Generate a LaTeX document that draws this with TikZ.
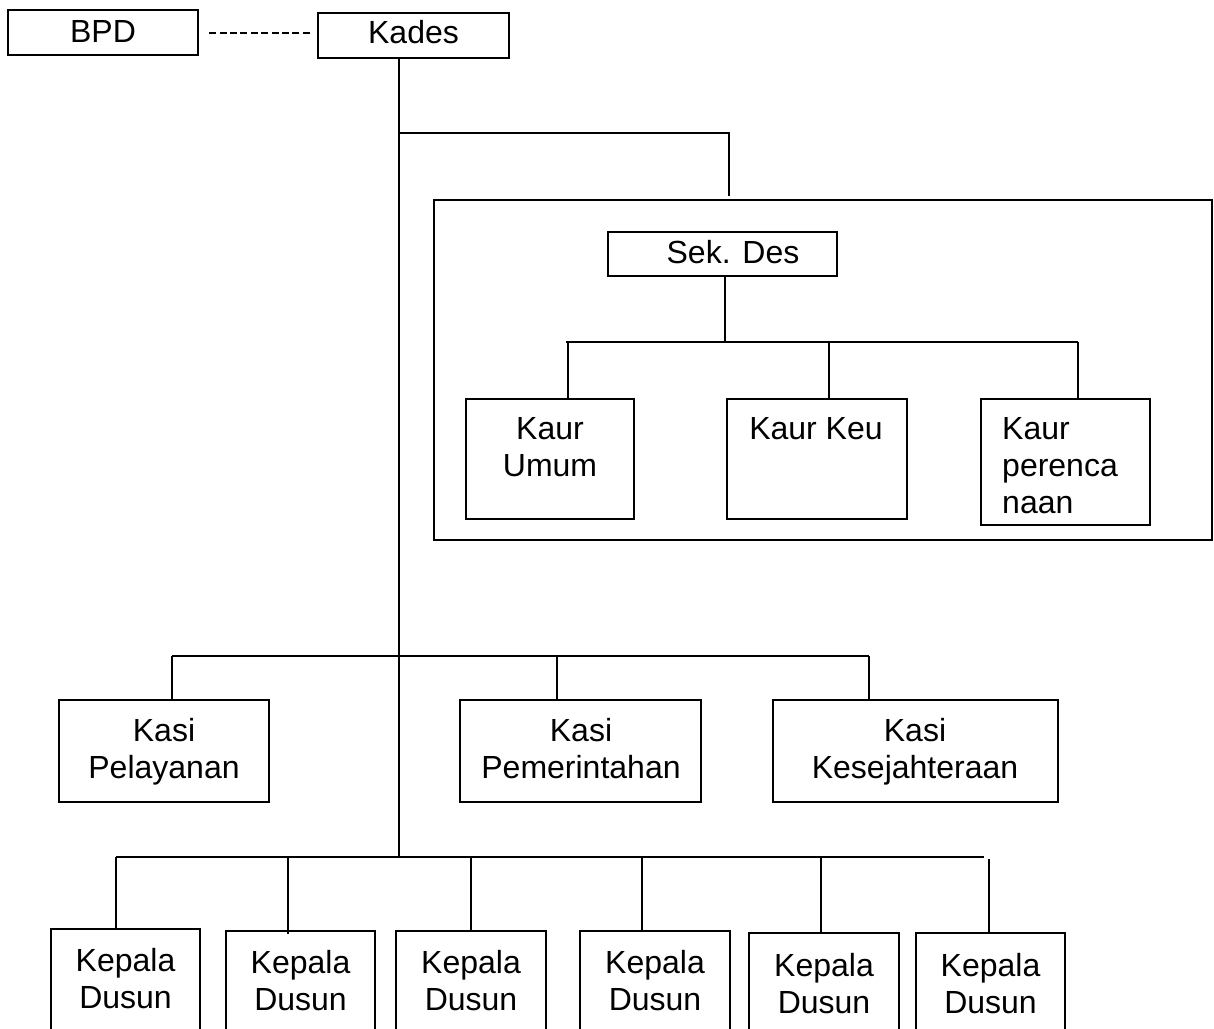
\documentclass[tikz,border=0pt]{standalone}
\usepackage{fontspec}
\setmainfont{Liberation Sans}
\begin{document}
\begin{tikzpicture}[x=1pt,y=-1pt,
  box/.style={draw, line width=2.4pt, inner sep=0pt, rectangle},
  conn/.style={line width=2.8pt},
  dashconn/.style={line width=2.8pt, dash pattern=on 7pt off 3.4pt},
  lbl/.style={inner sep=0pt, align=center, font=\fontsize{32}{37}\selectfont},
  lbll/.style={inner sep=0pt, align=left, font=\fontsize{32}{37}\selectfont}]
\clip (0,0) rectangle (1214,1028);
% boxes
\node[box, minimum width=190, minimum height=45] (bpd) at (103,32.5) {};
\node[box, minimum width=191, minimum height=45] (kades) at (413.5,35.5) {};
\node[box, minimum width=778, minimum height=340] (frame) at (823,370) {};
\node[box, minimum width=229, minimum height=44] (sek) at (722.5,254) {};
\node[box, minimum width=168, minimum height=120] (kaur1) at (550,459) {};
\node[box, minimum width=180, minimum height=120] (kaur2) at (817,459) {};
\node[box, minimum width=169, minimum height=126] (kaur3) at (1065.5,462) {};
\node[box, minimum width=210, minimum height=102] (kasi1) at (164,751) {};
\node[box, minimum width=241, minimum height=102] (kasi2) at (580.5,751) {};
\node[box, minimum width=285, minimum height=102] (kasi3) at (915.5,751) {};
\node[box, minimum width=149, minimum height=131] (kd1) at (125.5,994.5) {};
\node[box, minimum width=149, minimum height=129] (kd2) at (300.5,995.5) {};
\node[box, minimum width=150, minimum height=129] (kd3) at (471,995.5) {};
\node[box, minimum width=150, minimum height=129] (kd4) at (655,995.5) {};
\node[box, minimum width=150, minimum height=127] (kd5) at (824,996.5) {};
\node[box, minimum width=149, minimum height=127] (kd6) at (990.5,996.5) {};
% texts
\node[lbl, anchor=north] (tbpd) at (103,20) {BPD};
\node[lbl, anchor=north] (tkades) at (413.5,20) {Kades};
\node[lbl, anchor=north] (tsek) at (733,240) {Sek. Des};
\node[lbl, anchor=north] (tkaur1) at (550,417) {Kaur\\Umum};
\node[lbl, anchor=north] (tkaur2) at (816,417) {Kaur Keu};
\node[lbll, anchor=north west] (tkaur3) at (1002,417) {Kaur\\perenca\\naan};
\node[lbl, anchor=north] (tkasi1) at (164,718) {Kasi\\Pelayanan};
\node[lbl, anchor=north] (tkasi2) at (581,718) {Kasi\\Pemerintahan};
\node[lbl, anchor=north] (tkasi3) at (915,718) {Kasi\\Kesejahteraan};
\node[lbl, anchor=north] (tkd1) at (125.5,948) {Kepala\\Dusun};
\node[lbl, anchor=north] (tkd2) at (300.5,950) {Kepala\\Dusun};
\node[lbl, anchor=north] (tkd3) at (471,950) {Kepala\\Dusun};
\node[lbl, anchor=north] (tkd4) at (655,950) {Kepala\\Dusun};
\node[lbl, anchor=north] (tkd5) at (824,953) {Kepala\\Dusun};
\node[lbl, anchor=north] (tkd6) at (990.5,953) {Kepala\\Dusun};
% junction coordinates
\coordinate (jtop) at (399,133);
\coordinate (jkasi) at (399,656);
\coordinate (jkd) at (399,857);
\coordinate (jsek) at (725,342);
% connectors
\draw[dashconn, shorten <=10pt, shorten >=6pt] (bpd.east |- 0,33) -- (kades.west |- 0,33);
\draw[conn] (kades.south -| jkd) -- (jkd);
\draw[conn] (jtop) -- (729,133) -- ([yshift=3]frame.north -| 729,0);
\draw[conn] (sek.south -| jsek) -- (jsek);
\draw[conn] (566,342) -- (1078,342);
\draw[conn] (568,342) -- (kaur1.north -| 568,0);
\draw[conn] (829,342) -- (kaur2.north -| 829,0);
\draw[conn] (1078,342) -- (kaur3.north -| 1078,0);
\draw[conn] (172,656) -- (869,656);
\draw[conn] (172,656) -- (kasi1.north -| 172,0);
\draw[conn] (557,656) -- (kasi2.north -| 557,0);
\draw[conn] (869,656) -- (kasi3.north -| 869,0);
\draw[conn] (116,857) -- (984,857);
\draw[conn] (116,857) -- (kd1.north -| 116,0);
\draw[conn] (288,857) -- (288,934);
\draw[conn] (471,857) -- (kd3.north -| 471,0);
\draw[conn] (642,857) -- (kd4.north -| 642,0);
\draw[conn] (821,857) -- (kd5.north -| 821,0);
\draw[conn] (989,859) -- (kd6.north -| 989,0);
\end{tikzpicture}
\end{document}
